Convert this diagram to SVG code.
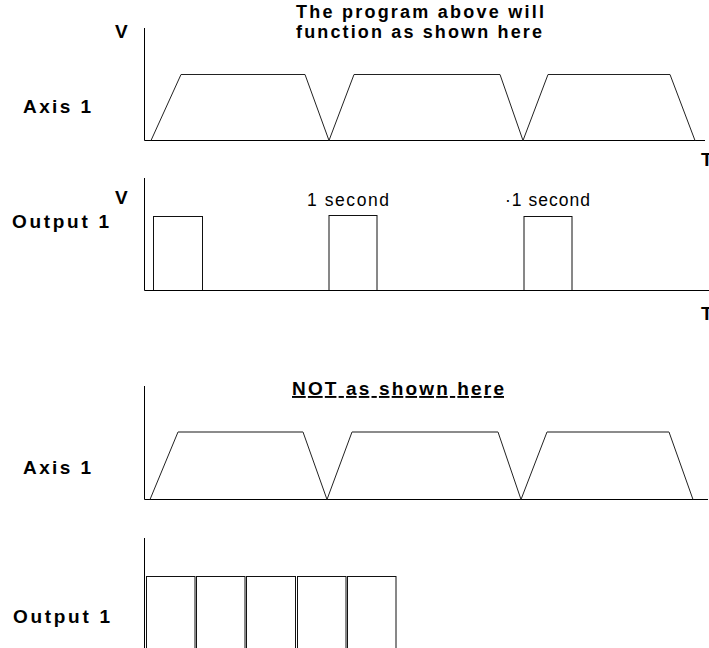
<svg xmlns="http://www.w3.org/2000/svg" width="709" height="648" viewBox="0 0 709 648">
<style>
.b{font-family:"Liberation Sans",Arial,sans-serif;font-weight:bold;font-size:19px;fill:#000}
.t{font-family:"Liberation Sans",Arial,sans-serif;font-weight:bold;font-size:18px;fill:#000}
.r{font-family:"Liberation Sans",Arial,sans-serif;font-size:17.5px;fill:#000}
.ax{stroke:#000;stroke-width:1;fill:none}
.wv{stroke:#222;stroke-width:1;fill:none;stroke-linejoin:miter}
.pl{stroke:#666;stroke-width:1.5;fill:none}
.pu{stroke:#111;stroke-width:1;fill:#fff}
</style>
<rect width="709" height="648" fill="#fff"/>
<g id="title">
<text class="t" x="296" y="18" textLength="248" lengthAdjust="spacing">The program above will</text>
<text class="t" x="296" y="38" textLength="246" lengthAdjust="spacing">function as shown here</text>
</g>
<g id="chart1">
<text class="b" x="115" y="38">V</text>
<text class="b" x="23" y="113" textLength="68" lengthAdjust="spacing">Axis 1</text>
<text class="b" x="701" y="166">T</text>
<path class="ax" d="M144.5 28V140.5H705"/>
<path class="wv" d="M151 140.5L181 74.5H305L329 140.5L354 74.5H500L523 140.5L548 74.5H670L695 140.5"/>
</g>
<g id="chart2">
<text class="b" x="115" y="204">V</text>
<text class="b" x="12" y="228" textLength="97" lengthAdjust="spacing">Output 1</text>
<text class="b" x="701" y="320">T</text>
<text class="r" x="307" y="206" textLength="82" lengthAdjust="spacing">1 second</text>
<text class="r" x="505" y="206" textLength="85" lengthAdjust="spacing">·1 second</text>
<rect class="pu" x="153.5" y="216.5" width="49" height="74"/>
<rect class="pu" x="329" y="215.5" width="48" height="75"/>
<rect class="pu" x="524" y="216.5" width="48" height="74"/>
<path class="ax" d="M144.5 178V290.5H709"/>
</g>
<g id="chart3">
<text class="b" x="292" y="395" textLength="212" lengthAdjust="spacing" text-decoration="underline">NOT as shown here</text>
<text class="b" x="23" y="474" textLength="68" lengthAdjust="spacing">Axis 1</text>
<path class="ax" d="M144.5 386V499.5H708"/>
<path class="wv" d="M150 499.5L178 432M303 432L327 499.5L352 432M498 432L521 499.5L547 432M669 432L693 499.5"/>
<path class="pl" d="M178 432H303M352 432H498M547 432H669"/>
</g>
<g id="chart4">
<text class="b" x="13" y="623" textLength="97" lengthAdjust="spacing">Output 1</text>
<path class="ax" d="M144.5 538V648"/>
<rect class="pu" x="146.5" y="576.5" width="48.5" height="80"/>
<rect class="pu" x="196.5" y="576.5" width="48.5" height="80"/>
<rect class="pu" x="246.5" y="576.5" width="49" height="80"/>
<rect class="pu" x="297.5" y="576.5" width="48.5" height="80"/>
<rect class="pu" x="347.5" y="576.5" width="48.5" height="80"/>
</g>
</svg>
